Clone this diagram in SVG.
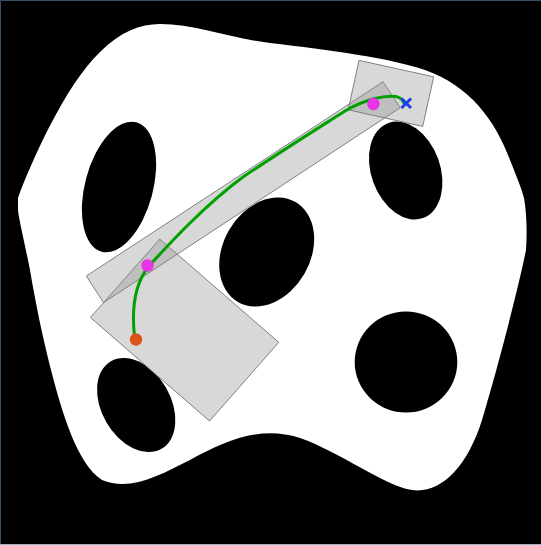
<svg xmlns="http://www.w3.org/2000/svg" width="541" height="545" viewBox="0 0 541 545">
<style>
.hole{fill:#000}
.under{fill:#fff}
.box{fill:#939393;fill-opacity:0.36;stroke:#808080;stroke-width:1}
.path{fill:none;stroke:#00a000;stroke-width:3;stroke-linecap:round}
.way{fill:#e833e8}
</style>
<rect x="0" y="0" width="541" height="545" fill="#000"/>
<path d="M0.5,545 V0.5 H541" fill="none" stroke="#34506a" stroke-width="1"/>
<line x1="0" y1="544.5" x2="541" y2="544.5" stroke="#9fb0c0" stroke-width="1"/>
<g id="free-space">
<path fill="#fff" d="M18,198 C30,165 65,85 100,52 C120,32 140,24 160,24 C195,24 230,38 270,43 C330,50 390,58 425,70 C470,86 495,120 510,160 C518,180 522,190 524,198 C527,215 527,235 526,250 C518,290 497,370 482,420 C467,468 440,494 412,490 C385,486 340,452 300,438 C260,425 225,441 190,460 C160,475 130,492 102,480 C77,464 62,412 51,370 C42,335 35,300 30,270 C24,240 19,220 18,210 Z"/>
</g>
<g id="obstacles">
<ellipse class="hole" cx="119" cy="187" rx="34" ry="67" transform="rotate(15 119 187)"/>
<ellipse class="hole" cx="405.7" cy="170.5" rx="34.5" ry="50.6" transform="rotate(-20 405.7 170.5)"/>
<ellipse class="hole" cx="266.7" cy="252" rx="43.6" ry="57.6" transform="rotate(30 266.7 252)"/>
<ellipse class="hole" cx="136.2" cy="405" rx="34.5" ry="50.6" transform="rotate(-30 136.2 405)"/>
<ellipse class="hole" cx="406" cy="362" rx="51.3" ry="50.5"/>
</g>
<g id="boxes">
<polygon class="under" points="90.4,317.5 159.8,239.1 278.8,342.3 209.5,421"/>
<polygon class="under" points="86.3,276 383,81.8 400.3,107.7 103.5,302.6"/>
<polygon class="under" points="359,60.4 433.7,76.8 422.7,126.4 348.2,109.8"/>
<polygon id="box-start" class="box" points="90.4,317.5 159.8,239.1 278.8,342.3 209.5,421"/>
<polygon id="box-corridor" class="box" points="86.3,276 383,81.8 400.3,107.7 103.5,302.6"/>
<polygon id="box-goal" class="box" points="359,60.4 433.7,76.8 422.7,126.4 348.2,109.8"/>
</g>
<g id="connectors">
<path class="path" d="M134.5,336 C131,305 136,283 148,267 C170,243 205,205 243,177 C280,152 320,127 345,111 C365,99 385,95 396,96.5 C400,97.5 403,100 404,103"/>
</g>
<g id="start"><circle cx="136" cy="339.5" r="6.2" fill="#d95319"/></g>
<g id="waypoint-1"><circle class="way" cx="147.5" cy="265.5" r="6.2"/></g>
<g id="waypoint-2"><circle class="way" cx="373.4" cy="104" r="6.2"/></g>
<g id="goal"><path d="M401.5,98.5 L411,108 M411,98.5 L401.5,108" stroke="#1f3de8" stroke-width="3" fill="none"/></g>
</svg>
